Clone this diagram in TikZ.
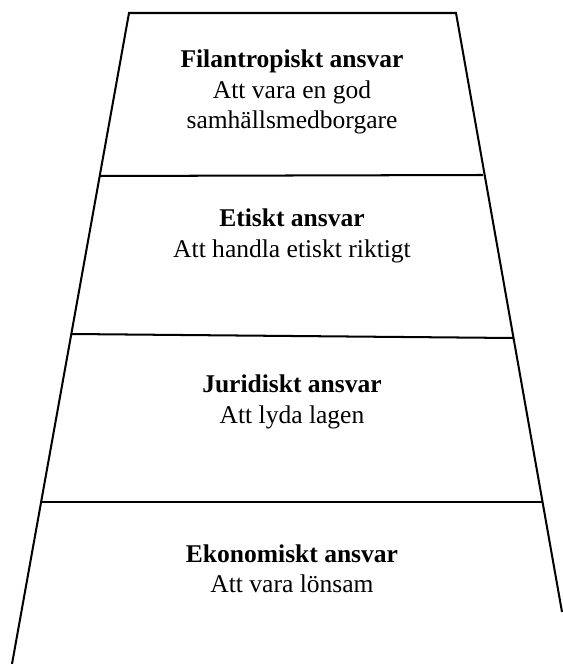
\documentclass[tikz,border=0pt]{standalone}
\usepackage{fontspec}
\setmainfont{Liberation Serif}
\usepackage{tikz}
\usetikzlibrary{positioning,calc}

\tikzset{
    level/.style={align=center, font=\fontsize{12}{14.2}\selectfont},
    edge/.style={line width=0.95pt},
}

\begin{document}
\begin{tikzpicture}[x=0.47pt, y=-0.47pt]
    \useasboundingbox (0,0) rectangle (562,664);
    % Corners of the pyramid
    \coordinate (tl) at (129,13); \coordinate (tr) at (456,13);
    \coordinate (bl) at (12,664); \coordinate (br) at (562,612);
    % Dividers
    \coordinate (l1) at (100,176); \coordinate (r1) at (483,175);
    \coordinate (l2) at (71,334);  \coordinate (r2) at (513,338);
    \coordinate (l3) at (41,502);  \coordinate (r3) at (543,502);
    % Outline
    \draw [edge] (bl) -- (tl) -- (tr) -- (br);
    \draw [edge] (l1) -- (r1);
    \draw [edge] (l2) -- (r2);
    \draw [edge] (l3) -- (r3);
    % Levels
    \node [level] (filantropiskt) at (292,92) {\textbf{Filantropiskt ansvar}\\Att vara en god\\samhällsmedborgare};
    \node [level] (etiskt) at (292,236) {\textbf{Etiskt ansvar}\\Att handla etiskt riktigt};
    \node [level] (juridiskt) at (292,402) {\textbf{Juridiskt ansvar}\\Att lyda lagen};
    \node [level] (ekonomiskt) at (292,569) {\textbf{Ekonomiskt ansvar}\\Att vara lönsam};
\end{tikzpicture}
\end{document}
